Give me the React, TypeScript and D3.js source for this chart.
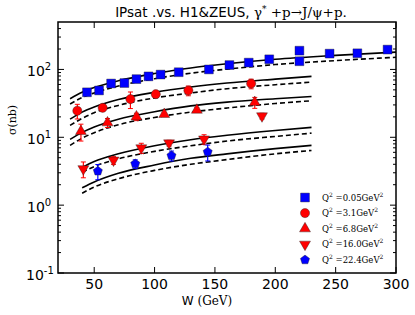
import * as d3 from "d3";

// ---- data ----
// Q^2 = 0.05 GeV^2 (blue squares)
const wSq = [44, 54, 64, 75, 85, 95, 105, 120, 145, 162, 178, 195, 220, 220, 245, 268, 293];
const sSq = [46, 49, 62, 63, 72, 79, 84, 91, 100, 116, 126, 141, 189, 132, 171, 173, 196];
const eSq = [2.5, 2.5, 3, 3, 3.5, 4, 4, 4.5, 5, 6, 6, 7, 12, 9, 9, 9, 11];
// Q^2 = 3.1 (red circles)
const wCi = [36, 57, 80, 101, 128, 180];
const sCi = [24.6, 27.2, 36.5, 43.2, 48.9, 61.8];
const eCi = [6, 3, 10, 3.5, 8, 10];
// Q^2 = 6.8 (red up triangles)
const wTu = [39, 61, 85, 108, 135, 183];
const sTu = [12.2, 16.4, 20.1, 21.8, 25.2, 32.7];
const eTu = [3.4, 2.5, 2.5, 1.5, 2, 6];
// Q^2 = 16.0 (red down triangles)
const wTd = [41, 66, 89, 112, 141, 189];
const sTd = [3.43, 4.59, 6.96, 8.23, 9.4, 20.6];
const eTd = [0.9, 0.6, 1.2, 0.8, 1.5, 2];
// Q^2 = 22.4 (blue pentagons)
const wPe = [53, 84, 114, 144];
const sPe = [3.17, 4.06, 5.37, 6.08];
const ePe = [0.8, 0.6, 0.9, 1.6];

// IPsat curves (solid / dashed)
const cwBlue = [30, 40, 50, 70, 100, 130, 160, 200, 250, 300];
const cwHi = [30, 40, 50, 70, 100, 130, 160, 200, 230];
const cwLo = [40, 50, 70, 100, 130, 160, 200, 230];
const blueSolid = [37, 46, 54, 68, 87, 105, 121, 141, 161, 180];
const blueDash = [31, 38.5, 45, 57, 73, 88, 101, 118, 135, 151];
const circSolid = [18.5, 23.5, 28, 36, 46, 55, 63, 72, 79];
const circDash = [15, 19, 23, 29.5, 38, 45, 52, 59.5, 65];
const triSolid = [9.3, 11.8, 14.2, 18.5, 23.8, 29, 33, 37, 40];
const triDash = [7.6, 9.7, 11.7, 15.3, 19.6, 23.5, 27, 31.5, 34.5];
const downSolid = [3.6, 4.4, 5.7, 7.5, 9.2, 10.7, 12.6, 14];
const downDash = [3.05, 3.7, 4.8, 6.2, 7.5, 8.8, 10.3, 11.5];
const pentSolid = [1.8, 2.2, 2.95, 3.9, 4.9, 5.7, 6.8, 7.6];
const pentDash = [1.5, 1.85, 2.45, 3.25, 4.0, 4.7, 5.7, 6.4];

const xTicks = [50, 100, 150, 200, 250, 300];
const yExps = [-1, 0, 1, 2];
const legendQ2 = ["0.05", "3.1", "6.8", "16.0", "22.4"];

const width = 415;
const height = 315;
const margin = { left: 58, right: 19, top: 22, bottom: 42 };

const x = d3.scaleLinear().domain([20, 300]).range([margin.left, width - margin.right]);
const y = d3.scaleLog().domain([0.1, 500]).range([height - margin.bottom, margin.top]);

const BLUE = "#0000ff";
const RED = "#ff0000";
const SERIF = "'DejaVu Serif', 'Liberation Serif', serif";
const SANS = "'DejaVu Sans', sans-serif";

function pentagon(r: number) {
  const pts = d3.range(5).map((i) => {
    const a = -Math.PI / 2 + (i * 2 * Math.PI) / 5;
    return [r * Math.cos(a), r * Math.sin(a)];
  });
  return "M" + pts.map((p) => p.join(",")).join("L") + "Z";
}

const markerPath = {
  square: d3.symbol(d3.symbolSquare, 78)()!,
  circle: d3.symbol(d3.symbolCircle, 66)()!,
  tri: d3.symbol(d3.symbolTriangle, 52)()!,
  pent: pentagon(4.8),
};

type Kind = "square" | "circle" | "tri" | "down" | "pent";

const Marker = ({ kind, cx, cy, color }: { kind: Kind; cx: number; cy: number; color: string }) => {
  const d = kind === "down" ? markerPath.tri : markerPath[kind];
  const rot = kind === "down" ? " rotate(180)" : "";
  return (
    <path
      d={d}
      transform={`translate(${cx},${cy})${rot}`}
      fill={color}
      stroke="#222"
      strokeWidth={0.4}
    />
  );
};

const Series = ({ ws, ss, es, kind, color }: { ws: number[]; ss: number[]; es: number[]; kind: Kind; color: string }) => (
  <g>
    {ws.map((w, i) => {
      const cx = x(w);
      const y0 = y(ss[i] + es[i]);
      const y1 = y(Math.max(ss[i] - es[i], 0.11));
      return (
        <g key={i}>
          <line x1={cx} x2={cx} y1={y0} y2={y1} stroke={color} strokeWidth={1.2} />
          <line x1={cx - 2.5} x2={cx + 2.5} y1={y0} y2={y0} stroke={color} strokeWidth={1} />
          <line x1={cx - 2.5} x2={cx + 2.5} y1={y1} y2={y1} stroke={color} strokeWidth={1} />
          <Marker kind={kind} cx={cx} cy={y(ss[i])} color={color} />
        </g>
      );
    })}
  </g>
);

const line = d3
  .line<[number, number]>()
  .x((d) => x(d[0]))
  .y((d) => y(d[1]))
  .curve(d3.curveMonotoneX);

const curves: { ws: number[]; vs: number[]; dashed: boolean }[] = [
  { ws: cwBlue, vs: blueSolid, dashed: false },
  { ws: cwBlue, vs: blueDash, dashed: true },
  { ws: cwHi, vs: circSolid, dashed: false },
  { ws: cwHi, vs: circDash, dashed: true },
  { ws: cwHi, vs: triSolid, dashed: false },
  { ws: cwHi, vs: triDash, dashed: true },
  { ws: cwLo, vs: downSolid, dashed: false },
  { ws: cwLo, vs: downDash, dashed: true },
  { ws: cwLo, vs: pentSolid, dashed: false },
  { ws: cwLo, vs: pentDash, dashed: true },
];

const legendKinds: { kind: Kind; color: string }[] = [
  { kind: "square", color: BLUE },
  { kind: "circle", color: RED },
  { kind: "tri", color: RED },
  { kind: "down", color: RED },
  { kind: "pent", color: BLUE },
];

export default function App() {
  const x0 = margin.left;
  const x1 = width - margin.right;
  const yTop = margin.top;
  const yBot = height - margin.bottom;

  // minor log ticks
  const minor: number[] = [];
  for (const e of [-1, 0, 1, 2]) {
    for (let k = 2; k <= 9; k++) {
      const v = k * Math.pow(10, e);
      if (v < 500) minor.push(v);
    }
  }

  return (
    <svg width={width} height={height} style={{ position: "absolute", left: 0, top: 0, background: "#fff" }}>
      {/* title */}
      <text x={231} y={17} textAnchor="middle" fontSize={13.5}>
        <tspan fontFamily={SANS}>IPsat .vs. H1&amp;ZEUS, </tspan>
        <tspan fontFamily={SERIF}>
          γ<tspan dy={-5} fontSize={9}>*</tspan>
          <tspan dy={5}> +p→J/ψ+p.</tspan>
        </tspan>
      </text>

      {/* curves */}
      <g fill="none" stroke="#000" strokeWidth={1.6}>
        {curves.map((c, i) => (
          <path
            key={i}
            d={line(c.ws.map((w, j) => [w, c.vs[j]] as [number, number]))!}
            strokeDasharray={c.dashed ? "5,3" : undefined}
          />
        ))}
      </g>

      {/* data */}
      <Series ws={wSq} ss={sSq} es={eSq} kind="square" color={BLUE} />
      <Series ws={wCi} ss={sCi} es={eCi} kind="circle" color={RED} />
      <Series ws={wTu} ss={sTu} es={eTu} kind="tri" color={RED} />
      <Series ws={wTd} ss={sTd} es={eTd} kind="down" color={RED} />
      <Series ws={wPe} ss={sPe} es={ePe} kind="pent" color={BLUE} />

      {/* ticks */}
      <g stroke="#000" strokeWidth={1}>
        {xTicks.map((t) => (
          <g key={t}>
            <line x1={x(t)} x2={x(t)} y1={yBot} y2={yBot - 6} />
            <line x1={x(t)} x2={x(t)} y1={yTop} y2={yTop + 6} />
          </g>
        ))}
        {yExps.map((e) => (
          <g key={e}>
            <line x1={x0} x2={x0 + 6} y1={y(Math.pow(10, e))} y2={y(Math.pow(10, e))} />
            <line x1={x1} x2={x1 - 6} y1={y(Math.pow(10, e))} y2={y(Math.pow(10, e))} />
          </g>
        ))}
        {minor.map((v) => (
          <g key={v}>
            <line x1={x0} x2={x0 + 3} y1={y(v)} y2={y(v)} />
            <line x1={x1} x2={x1 - 3} y1={y(v)} y2={y(v)} />
          </g>
        ))}
      </g>

      {/* frame */}
      <rect x={x0} y={yTop} width={x1 - x0} height={yBot - yTop} fill="none" stroke="#000" strokeWidth={1.5} />

      {/* tick labels */}
      <g fontFamily={SANS} fontSize={14}>
        {xTicks.map((t) => (
          <text key={t} x={x(t)} y={yBot + 16} textAnchor="middle">
            {t}
          </text>
        ))}
        {yExps.map((e) => (
          <text key={e} x={e < 0 ? 26 : 27} y={y(Math.pow(10, e)) + 7}>
            10<tspan dy={-6} fontSize={10}>{e}</tspan>
          </text>
        ))}
      </g>

      {/* axis labels */}
      <text x={207} y={305} textAnchor="middle" fontSize={12}>
        <tspan fontFamily={SANS}>W </tspan>
        <tspan fontFamily={SERIF}>(GeV)</tspan>
      </text>
      <text
        transform={`translate(16,120) rotate(-90)`}
        textAnchor="middle"
        fontFamily={SERIF}
        fontSize={11}
      >
        σ(nb)
      </text>

      {/* legend */}
      <g fontFamily={SERIF} fontSize={8.5}>
        {legendKinds.map((l, i) => {
          const ly = 197.5 + i * 15.6;
          return (
            <g key={i}>
              <Marker kind={l.kind} cx={305} cy={ly} color={l.color} />
              <text x={322} y={ly + 3}>
                Q<tspan dy={-4} fontSize={6}>2</tspan>
                <tspan dy={4}> =</tspan>
                {legendQ2[i]}GeV<tspan dy={-4} fontSize={6}>2</tspan>
              </text>
            </g>
          );
        })}
      </g>
    </svg>
  );
}
